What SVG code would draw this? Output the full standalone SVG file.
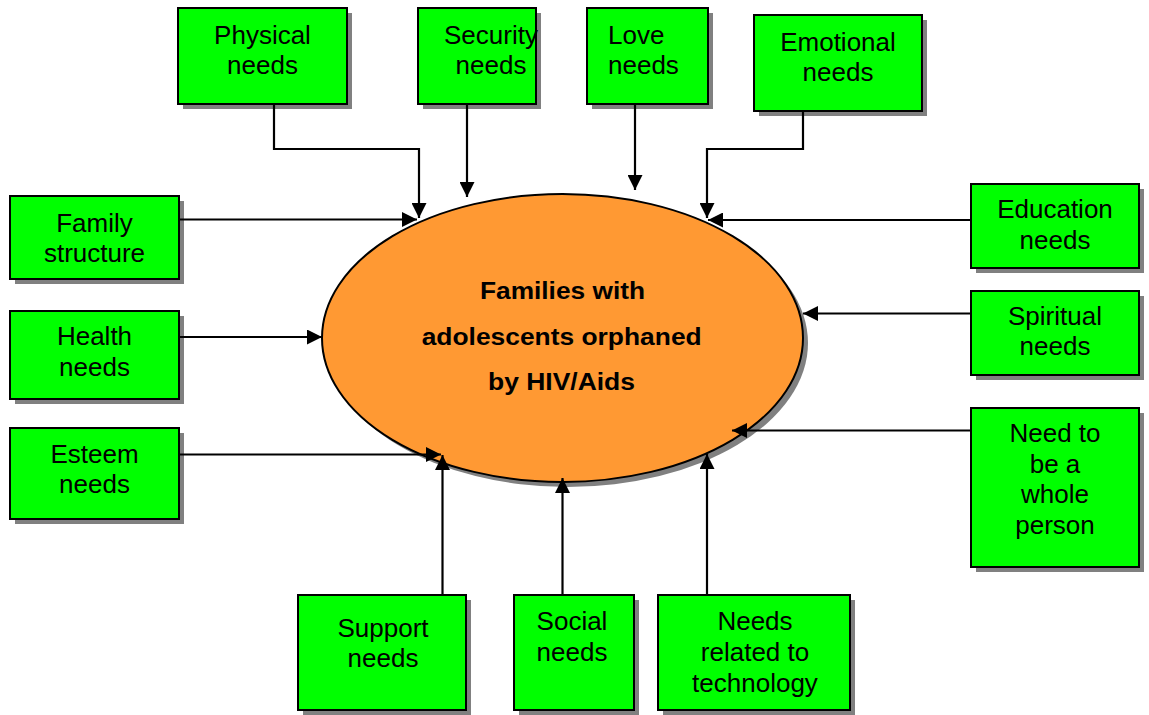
<svg xmlns="http://www.w3.org/2000/svg" width="1149" height="715" viewBox="0 0 1149 715">
<style>
.box{fill:#00FF00;stroke:#000;stroke-width:2}
.sh{fill:#808080}
.t{font-family:"Liberation Sans",Arial,sans-serif;font-size:26px;fill:#000;text-anchor:middle}
.tl{text-anchor:start}
.c{fill:none;stroke:#000;stroke-width:2.2;marker-end:url(#arr)}
.et{font-family:"Liberation Sans",Arial,sans-serif;font-size:23.5px;font-weight:bold;fill:#000;text-anchor:middle}
</style>
<defs>
<marker id="arr" viewBox="0 0 15 15" refX="15" refY="7.5" markerWidth="15" markerHeight="15" markerUnits="userSpaceOnUse" orient="auto">
<path d="M0,0 L15,7.5 L0,15 z" fill="#000"/>
</marker>
</defs>
<rect width="1149" height="715" fill="#fff"/>
<g id="center">
<ellipse cx="567.5" cy="343" rx="240.5" ry="144" fill="#808080"/>
<ellipse cx="562.5" cy="338" rx="240.5" ry="144" fill="#FF9933" stroke="#000" stroke-width="2"/>
<text class="et" x="562.5" y="299" textLength="165" lengthAdjust="spacingAndGlyphs">Families with</text>
<text class="et" x="561.7" y="345" textLength="280" lengthAdjust="spacingAndGlyphs">adolescents orphaned</text>
<text class="et" x="561.5" y="390" textLength="147" lengthAdjust="spacingAndGlyphs">by HIV/Aids</text>
</g>
<g id="physical">
<rect class="sh" x="183" y="13" width="169" height="96"/>
<rect class="box" x="178" y="8" width="169" height="96"/>
<text class="t" x="262.5" y="44">Physical</text>
<text class="t" x="262.5" y="74">needs</text>
</g>
<g id="security">
<rect class="sh" x="423" y="13" width="118" height="96"/>
<rect class="box" x="418" y="8" width="118" height="96"/>
<text class="t" x="491" y="44">Security</text>
<text class="t" x="491" y="74">needs</text>
</g>
<g id="love">
<rect class="sh" x="592" y="13" width="121" height="96"/>
<rect class="box" x="587" y="8" width="121" height="96"/>
<text class="t tl" x="608" y="44">Love</text>
<text class="t tl" x="608" y="74">needs</text>
</g>
<g id="emotional">
<rect class="sh" x="759" y="20" width="168" height="96"/>
<rect class="box" x="754" y="15" width="168" height="96"/>
<text class="t" x="838" y="51">Emotional</text>
<text class="t" x="838" y="81">needs</text>
</g>
<g id="family">
<rect class="sh" x="15" y="201" width="169" height="83"/>
<rect class="box" x="10" y="196" width="169" height="83"/>
<text class="t" x="94.5" y="232">Family</text>
<text class="t" x="94.5" y="262">structure</text>
</g>
<g id="health">
<rect class="sh" x="15" y="316" width="169" height="88"/>
<rect class="box" x="10" y="311" width="169" height="88"/>
<text class="t" x="94.5" y="345">Health</text>
<text class="t" x="94.5" y="376">needs</text>
</g>
<g id="esteem">
<rect class="sh" x="15" y="433" width="169" height="91"/>
<rect class="box" x="10" y="428" width="169" height="91"/>
<text class="t" x="94.5" y="463">Esteem</text>
<text class="t" x="94.5" y="493">needs</text>
</g>
<g id="education">
<rect class="sh" x="976" y="189" width="168" height="84"/>
<rect class="box" x="971" y="184" width="168" height="84"/>
<text class="t" x="1055" y="218">Education</text>
<text class="t" x="1055" y="249">needs</text>
</g>
<g id="spiritual">
<rect class="sh" x="976" y="296" width="168" height="84"/>
<rect class="box" x="971" y="291" width="168" height="84"/>
<text class="t" x="1055" y="325">Spiritual</text>
<text class="t" x="1055" y="355">needs</text>
</g>
<g id="whole">
<rect class="sh" x="976" y="413" width="168" height="159"/>
<rect class="box" x="971" y="408" width="168" height="159"/>
<text class="t" x="1055" y="442">Need to</text>
<text class="t" x="1055" y="473">be a</text>
<text class="t" x="1055" y="503">whole</text>
<text class="t" x="1055" y="534">person</text>
</g>
<g id="support">
<rect class="sh" x="303" y="600" width="168" height="115"/>
<rect class="box" x="298" y="595" width="168" height="115"/>
<text class="t" x="383" y="637">Support</text>
<text class="t" x="383" y="667">needs</text>
</g>
<g id="social">
<rect class="sh" x="519" y="600" width="120" height="115"/>
<rect class="box" x="514" y="595" width="120" height="115"/>
<text class="t" x="572" y="630">Social</text>
<text class="t" x="572" y="661">needs</text>
</g>
<g id="technology">
<rect class="sh" x="663" y="600" width="192" height="115"/>
<rect class="box" x="658" y="595" width="192" height="115"/>
<text class="t" x="755" y="630">Needs</text>
<text class="t" x="755" y="661">related to</text>
<text class="t" x="755" y="692">technology</text>
</g>
<g id="connectors">
<path class="c" d="M274,104 V149 H419 V218"/>
<path class="c" d="M467,104 V197"/>
<path class="c" d="M635,104 V190"/>
<path class="c" d="M803,111 V149 H707 V218"/>
<path class="c" d="M179,219.5 H417"/>
<path class="c" d="M179,337 H322"/>
<path class="c" d="M179,454.5 H441"/>
<path class="c" d="M971,220 H708"/>
<path class="c" d="M971,313.5 H803"/>
<path class="c" d="M971,430.5 H732"/>
<path class="c" d="M442.5,595 V455"/>
<path class="c" d="M562.5,595 V478"/>
<path class="c" d="M707,595 V454"/>
</g>
</svg>
